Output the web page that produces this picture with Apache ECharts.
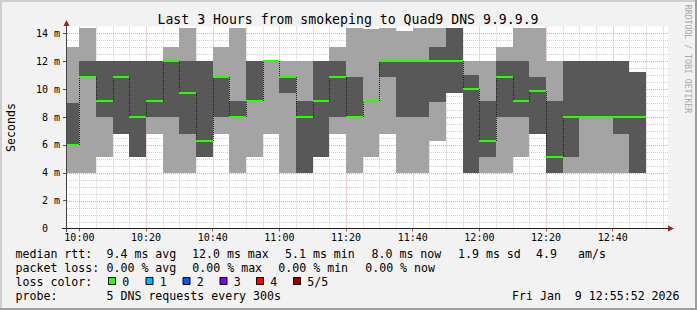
<!DOCTYPE html>
<html><head><meta charset="utf-8">
<script src="https://cdn.jsdelivr.net/npm/echarts@6/dist/echarts.min.js"></script>
<style>html,body{margin:0;padding:0;background:#f2f2f2}#c{width:697px;height:310px}</style>
</head><body><div id="c"></div>
<script>
// ---- data (5-minute steps, values in ms) ----
const colStart = ['09:55','10:00','10:05','10:10','10:15','10:20','10:25','10:30','10:35','10:40',
  '10:45','10:50','10:55','11:00','11:05','11:10','11:15','11:20','11:25','11:30',
  '11:35','11:40','11:45','11:50','11:55','12:00','12:05','12:10','12:15','12:20',
  '12:25','12:30','12:35','12:40','12:45'];
const ping1  = [4.0,4.0,5.1,6.8,5.1,6.8,4.0,4.0,5.1,6.8, 4.0,5.1,6.8,4.0,4.0,5.1,6.8,4.0,5.1,6.8, 4.0,4.0,6.3,9.7,4.0,4.0,4.0,5.1,6.8,4.0, 4.0,4.0,4.0,4.0,4.0];
const ping2  = [6.0,10.9,8.0,6.8,5.1,8.0,8.0,6.8,5.1,8.0, 8.0,9.15,12.0,9.7,4.0,5.1,8.0,8.0,9.15,10.9, 8.0,8.0,9.1,9.7,4.0,5.1,8.0,8.0,6.8,4.0, 5.1,8.0,8.0,6.8,4.0];
const median = [6.0,10.9,9.15,10.9,8.0,9.15,12.0,9.7,6.3,10.9, 8.0,9.15,12.0,10.9,8.0,9.15,10.9,8.0,9.15,12.0, 12.0,12.0,12.0,12.0,10.0,6.3,10.9,9.15,9.85,5.1, 8.0,8.0,8.0,8.0,8.0];
const ping4  = [9.0,12.0,12.0,12.0,12.0,12.0,12.0,12.0,12.0,10.9, 9.15,12.0,12.0,10.9,9.15,12.0,12.0,10.9,9.15,12.0, 12.0,12.0,13.0,14.4,11.0,9.15,12.0,12.0,10.9,9.15, 12.0,12.0,12.0,12.0,11.2];
const ping5  = [13.0,14.4,12.0,12.0,12.0,12.0,13.0,14.4,12.0,13.0, 14.4,12.0,12.0,12.0,12.0,12.0,13.0,14.4,14.3,14.4, 14.2,14.4,14.4,14.4,12.0,12.0,13.0,14.4,14.4,12.0, 12.0,12.0,12.0,12.0,11.2];
const xTickLabels = ['10:00','10:20','10:40','11:00','11:20','11:40','12:00','12:20','12:40'];
const yTickValues = [0,2,4,6,8,10,12,14];
const rttStats  = ['9.4 ms avg','12.0 ms max','5.1 ms min','8.0 ms now','1.9 ms sd','4.9','am/s'];
const lossStats = ['0.00 % avg','0.00 % max','0.00 % min','0.00 % now'];
const lossLabels = ['0','1','2','3','4','5/5'];
const lossColors = ['#26ff00','#00b8ff','#0059ff','#7e00ff','#ff0000','#a10000'];
const probeText = '5 DNS requests every 300s';
const stampText = 'Fri Jan  9 12:55:52 2026';
const titleText = 'Last 3 Hours from smokeping to Quad9 DNS 9.9.9.9';

// ---- helpers / styles ----
const STEP = 5;
const toMin = s => { const [h, m] = s.split(':').map(Number); return h * 60 + m; };
const fmtMin = v => { const h = Math.floor(v / 60), m = Math.round(v - h * 60); return String(h).padStart(2,'0') + ':' + String(m).padStart(2,'0'); };
const LIGHT = '#a4a4a4', DARK = '#585858';
const MAJOR = '#eba0a0', MINOR = '#cfcfcf';
const MONO = '"DejaVu Sans Mono", monospace';
const X_MIN = 596.28, X_MAX = 776.58, Y_MAX = 14.5;

// grid line positions (vertical every 5 min, horizontal every 0.5 ms)
const gridLines = [];
for (let m = 600; m <= 775; m += STEP) gridLines.push(['v', m, m % 20 === 0 ? 1 : 0]);
for (let k = 1; k <= 28; k++) gridLines.push(['h', k / 2, k % 4 === 0 ? 1 : 0]);

const chart = echarts.init(document.getElementById('c'), null, { renderer: 'svg' });

function clip(r, cs) {
  return echarts.graphic.clipRectByRect(r, { x: cs.x, y: cs.y, width: cs.width, height: cs.height });
}

const smokeData = colStart.map((s, i) => [toMin(s), ping1[i], ping2[i], median[i], ping4[i], ping5[i]]);
const medData = colStart.map((s, i) => [toMin(s), median[i], i > 0 ? median[i - 1] : median[i], i]);
const gridData = gridLines.map(g => g[0] === 'v' ? [g[1], 0, 0, g[2]] : [X_MIN, g[1], 1, g[2]]);

const gfx = [];
// frame
gfx.push({ type: 'rect', shape: { x: 0, y: 0, width: 697, height: 2 }, style: { fill: '#cfcfcf' }, z: 100 });
gfx.push({ type: 'rect', shape: { x: 0, y: 0, width: 2, height: 310 }, style: { fill: '#cfcfcf' }, z: 100 });
gfx.push({ type: 'rect', shape: { x: 0, y: 308, width: 697, height: 2 }, style: { fill: '#9e9e9e' }, z: 100 });
gfx.push({ type: 'rect', shape: { x: 695, y: 0, width: 2, height: 310 }, style: { fill: '#9e9e9e' }, z: 100 });
// axes lines + arrows
gfx.push({ type: 'line', shape: { x1: 62, y1: 228.5, x2: 669, y2: 228.5 }, style: { stroke: '#222', lineWidth: 1 }, z: 50 });
gfx.push({ type: 'line', shape: { x1: 66.5, y1: 232, x2: 66.5, y2: 25 }, style: { stroke: '#444', lineWidth: 1 }, z: 50 });
gfx.push({ type: 'polygon', shape: { points: [[668, 225.5], [674, 228.5], [668, 231.5]] }, style: { fill: '#9c2020' }, z: 51 });
gfx.push({ type: 'polygon', shape: { points: [[63.5, 26], [66.5, 20], [69.5, 26]] }, style: { fill: '#9c2020' }, z: 51 });
// title, axis name, watermark
const txt = (text, x, y, size, extra) => Object.assign({ type: 'text', x, y, z: 60,
  style: Object.assign({ text, fill: '#000', fontFamily: MONO, fontSize: size, verticalAlign: 'middle', align: 'left' }, extra || {}) });
gfx.push(txt(titleText, 348, 19.5, 13.2, { align: 'center' }));
gfx.push(Object.assign(txt('Seconds', 11, 127.5, 11.6, { align: 'center' }), { rotation: Math.PI / 2 }));
gfx.push(Object.assign(txt('RRDTOOL / TOBI OETIKER', 688, 59, 8.2, { align: 'center', fill: '#a8a8a8' }), { rotation: -Math.PI / 2 }));
// legend rows
const LS = 11.6;
gfx.push(txt('median rtt:', 15.5, 254, LS));
const rttX = [106.5, 192, 285, 371.5, 458, 536, 578];
rttStats.forEach((t, i) => gfx.push(txt(t, rttX[i], 254, LS)));
gfx.push(txt('packet loss:', 15.5, 268, LS));
const lossX = [106.5, 192.3, 278.3, 365.2];
lossStats.forEach((t, i) => gfx.push(txt(t, lossX[i], 268, LS)));
gfx.push(txt('loss color:', 15.5, 282, LS));
const boxX = [108, 145.5, 182.5, 219.5, 256, 293];
lossLabels.forEach((t, i) => {
  gfx.push({ type: 'rect', z: 60, shape: { x: boxX[i] + 0.5, y: 277.5, width: 7, height: 7 }, style: { fill: lossColors[i], stroke: '#000', lineWidth: 1 } });
  gfx.push(txt(t, boxX[i] + 14.3, 282, LS));
});
gfx.push(txt('probe:', 15.5, 296, LS));
gfx.push(txt(probeText, 106.5, 296, LS));
gfx.push(txt(stampText, 512, 296, LS));

const option = {
  animation: false,
  backgroundColor: '#f2f2f2',
  grid: { left: 67, right: 29, top: 26.5, bottom: 81.5, show: true, backgroundColor: '#ffffff', borderWidth: 0 },
  xAxis: {
    type: 'value', min: X_MIN, max: X_MAX,
    axisLine: { show: false },
    splitLine: { show: false },
    axisTick: { show: true, length: 3, customValues: xTickLabels.map(toMin), lineStyle: { color: '#d04040' } },
    axisLabel: { customValues: xTickLabels.map(toMin), formatter: v => fmtMin(v), fontFamily: MONO, fontSize: 10, color: '#000', margin: 4 }
  },
  yAxis: {
    type: 'value', min: 0, max: Y_MAX,
    axisLine: { show: false },
    splitLine: { show: false },
    axisTick: { show: true, length: 4, customValues: yTickValues, lineStyle: { color: '#555' } },
    axisLabel: { customValues: yTickValues, formatter: v => v === 0 ? '0  ' : v + ' m', fontFamily: MONO, fontSize: 10, color: '#000', margin: 7 }
  },
  graphic: gfx,
  series: [
    { // grid lines (minor gray, major red), drawn under the smoke
      type: 'custom', z: 1, silent: true,
      data: gridData, encode: { x: 0, y: 1 },
      renderItem(params, api) {
        const cs = params.coordSys, horiz = api.value(2) === 1, major = api.value(3) === 1;
        const style = { stroke: major ? MAJOR : MINOR, lineWidth: 1, lineDash: [1, 1] };
        const p = api.coord([api.value(0), api.value(1)]);
        if (horiz) {
          const y = Math.round(p[1]) + 0.5;
          return { type: 'line', shape: { x1: cs.x, y1: y, x2: cs.x + cs.width, y2: y }, style };
        }
        const x = Math.round(p[0]) + 0.5;
        return { type: 'line', shape: { x1: x, y1: cs.y, x2: x, y2: cs.y + cs.height }, style };
      }
    },
    { // smoke
      type: 'custom', z: 2, silent: true,
      data: smokeData, encode: { x: 0, y: [1, 2, 3, 4, 5] },
      renderItem(params, api) {
        const t0 = api.value(0), t1 = t0 + STEP, cs = params.coordSys;
        const bands = [[1, 2, LIGHT], [2, 4, DARK], [4, 5, LIGHT]];
        const children = [];
        for (const [a, b, c] of bands) {
          const lo = api.value(a), hi = api.value(b);
          if (hi <= lo) continue;
          const p0 = api.coord([t0, hi]), p1 = api.coord([t1, lo]);
          const x0 = Math.round(p0[0]), x1 = Math.round(p1[0]), y0 = Math.round(p0[1]), y1 = Math.round(p1[1]);
          const r = clip({ x: x0, y: y0, width: x1 - x0, height: y1 - y0 }, cs);
          if (r) children.push({ type: 'rect', shape: r, style: { fill: c } });
        }
        return { type: 'group', children };
      }
    },
    { // median with loss colour + step connectors
      type: 'custom', z: 3, silent: true,
      data: medData, encode: { x: 0, y: [1, 2] },
      renderItem(params, api) {
        const t0 = api.value(0), med = api.value(1), prev = api.value(2), idx = api.value(3), cs = params.coordSys;
        const a = api.coord([t0, med]), b = api.coord([t0 + STEP, med]), p = api.coord([t0, prev]);
        const children = [];
        const x0 = Math.round(a[0]), x1 = Math.round(b[0]);
        if (idx > 0 && Math.abs(p[1] - a[1]) > 1) {
          children.push({ type: 'line', shape: { x1: x0 + 0.5, y1: Math.round(p[1]), x2: x0 + 0.5, y2: Math.round(a[1]) },
            style: { stroke: '#202020', lineWidth: 1, lineDash: [1, 1] } });
        }
        const r = clip({ x: x0, y: Math.round(a[1]) - 1, width: x1 - x0, height: 2 }, cs);
        if (r) children.push({ type: 'rect', shape: r, style: { fill: lossColors[0] } });
        return { type: 'group', children };
      }
    }
  ]
};
chart.setOption(option);
</script>
</body></html>
